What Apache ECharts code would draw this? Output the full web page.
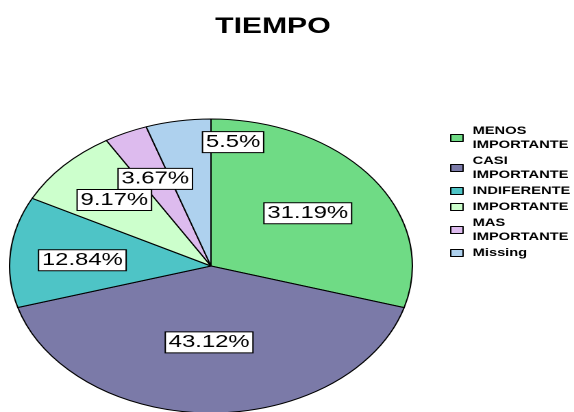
<!DOCTYPE html>
<html>
<head>
<meta charset="utf-8">
<script src="https://cdn.jsdelivr.net/npm/echarts@6/dist/echarts.min.js"></script>
<style>
html,body{margin:0;padding:0;overflow:hidden;background:#fff;width:574px;height:412px;}
#main{position:absolute;left:0;top:0;width:419px;height:412px;transform:scaleX(1.37);transform-origin:0 0;}
</style>
</head>
<body>
<div id="main"></div>
<script>
// ---- data ----
var categories = ['MENOS IMPORTANTE', 'CASI IMPORTANTE', 'INDIFERENTE', 'IMPORTANTE', 'MAS IMPORTANTE', 'Missing'];
var values = [31.19, 43.12, 12.84, 9.17, 3.67, 5.5];
var titleText = 'TIEMPO';

// ---- style ----
var colors = ['#6FDB85', '#7B7AA8', '#4EC4C6', '#CCFFCC', '#DDBBEE', '#AED1EE'];
var CX = 154, CY = 266, R = 147;
// label placement: fraction of radius and angle nudge (degrees)
var labelFrac = [0.6, 0.52, 0.64, 0.657, 0.654, 0.85];
var labelNudge = [0, 1, -2, 0, 0, 16.8];

var total = values.reduce(function (a, b) { return a + b; }, 0);
var midAngles = [];
(function () {
  var cum = 0;
  for (var i = 0; i < values.length; i++) {
    midAngles.push((cum + values[i] / 2) / total * 360);
    cum += values[i];
  }
})();

var chart = echarts.init(document.getElementById('main'), null, { renderer: 'canvas', devicePixelRatio: 2 });
var FONT = "'Liberation Sans', Arial, Helvetica, sans-serif";

chart.setOption({
  animation: false,
  backgroundColor: '#fff',
  title: {
    text: titleText,
    left: 157,
    top: 16,
    padding: 0,
    textStyle: { fontFamily: FONT, fontSize: 22, fontWeight: 'bold', color: '#000' }
  },
  legend: {
    orient: 'vertical',
    left: 328.5,
    top: 124,
    padding: 0,
    itemGap: 2,
    itemWidth: 9,
    itemHeight: 7,
    icon: 'rect',
    selectedMode: false,
    data: categories,
    itemStyle: { borderColor: '#000', borderWidth: 1 },
    formatter: function (name) { return name.replace(' ', '\n'); },
    textStyle: { fontFamily: FONT, fontSize: 10.7, fontWeight: 'bold', color: '#000', lineHeight: 14, padding: [0, 0, 0, 2] }
  },
  color: colors,
  series: [{
    type: 'pie',
    center: [CX, CY],
    radius: [0, R],
    startAngle: 90,
    clockwise: true,
    avoidLabelOverlap: false,
    emphasis: { disabled: true },
    itemStyle: { borderColor: '#000', borderWidth: 1 },
    label: {
      show: true,
      position: 'inside',
      formatter: function (p) { return p.value + '%'; },
      fontFamily: FONT,
      fontSize: 17.4,
      color: '#000',
      backgroundColor: '#fff',
      borderColor: '#000',
      borderWidth: 1,
      padding: [1, 2, 1, 2],
      lineHeight: 18
    },
    labelLine: { show: false },
    labelLayout: function (params) {
      var i = params.dataIndex;
      var a = (midAngles[i] + labelNudge[i]) * Math.PI / 180;
      var f = labelFrac[i];
      return {
        x: CX + f * R * Math.sin(a),
        y: CY - f * R * Math.cos(a),
        align: 'center',
        verticalAlign: 'middle'
      };
    },
    data: categories.map(function (c, i) { return { name: c, value: values[i] }; })
  }]
});
</script>
</body>
</html>
